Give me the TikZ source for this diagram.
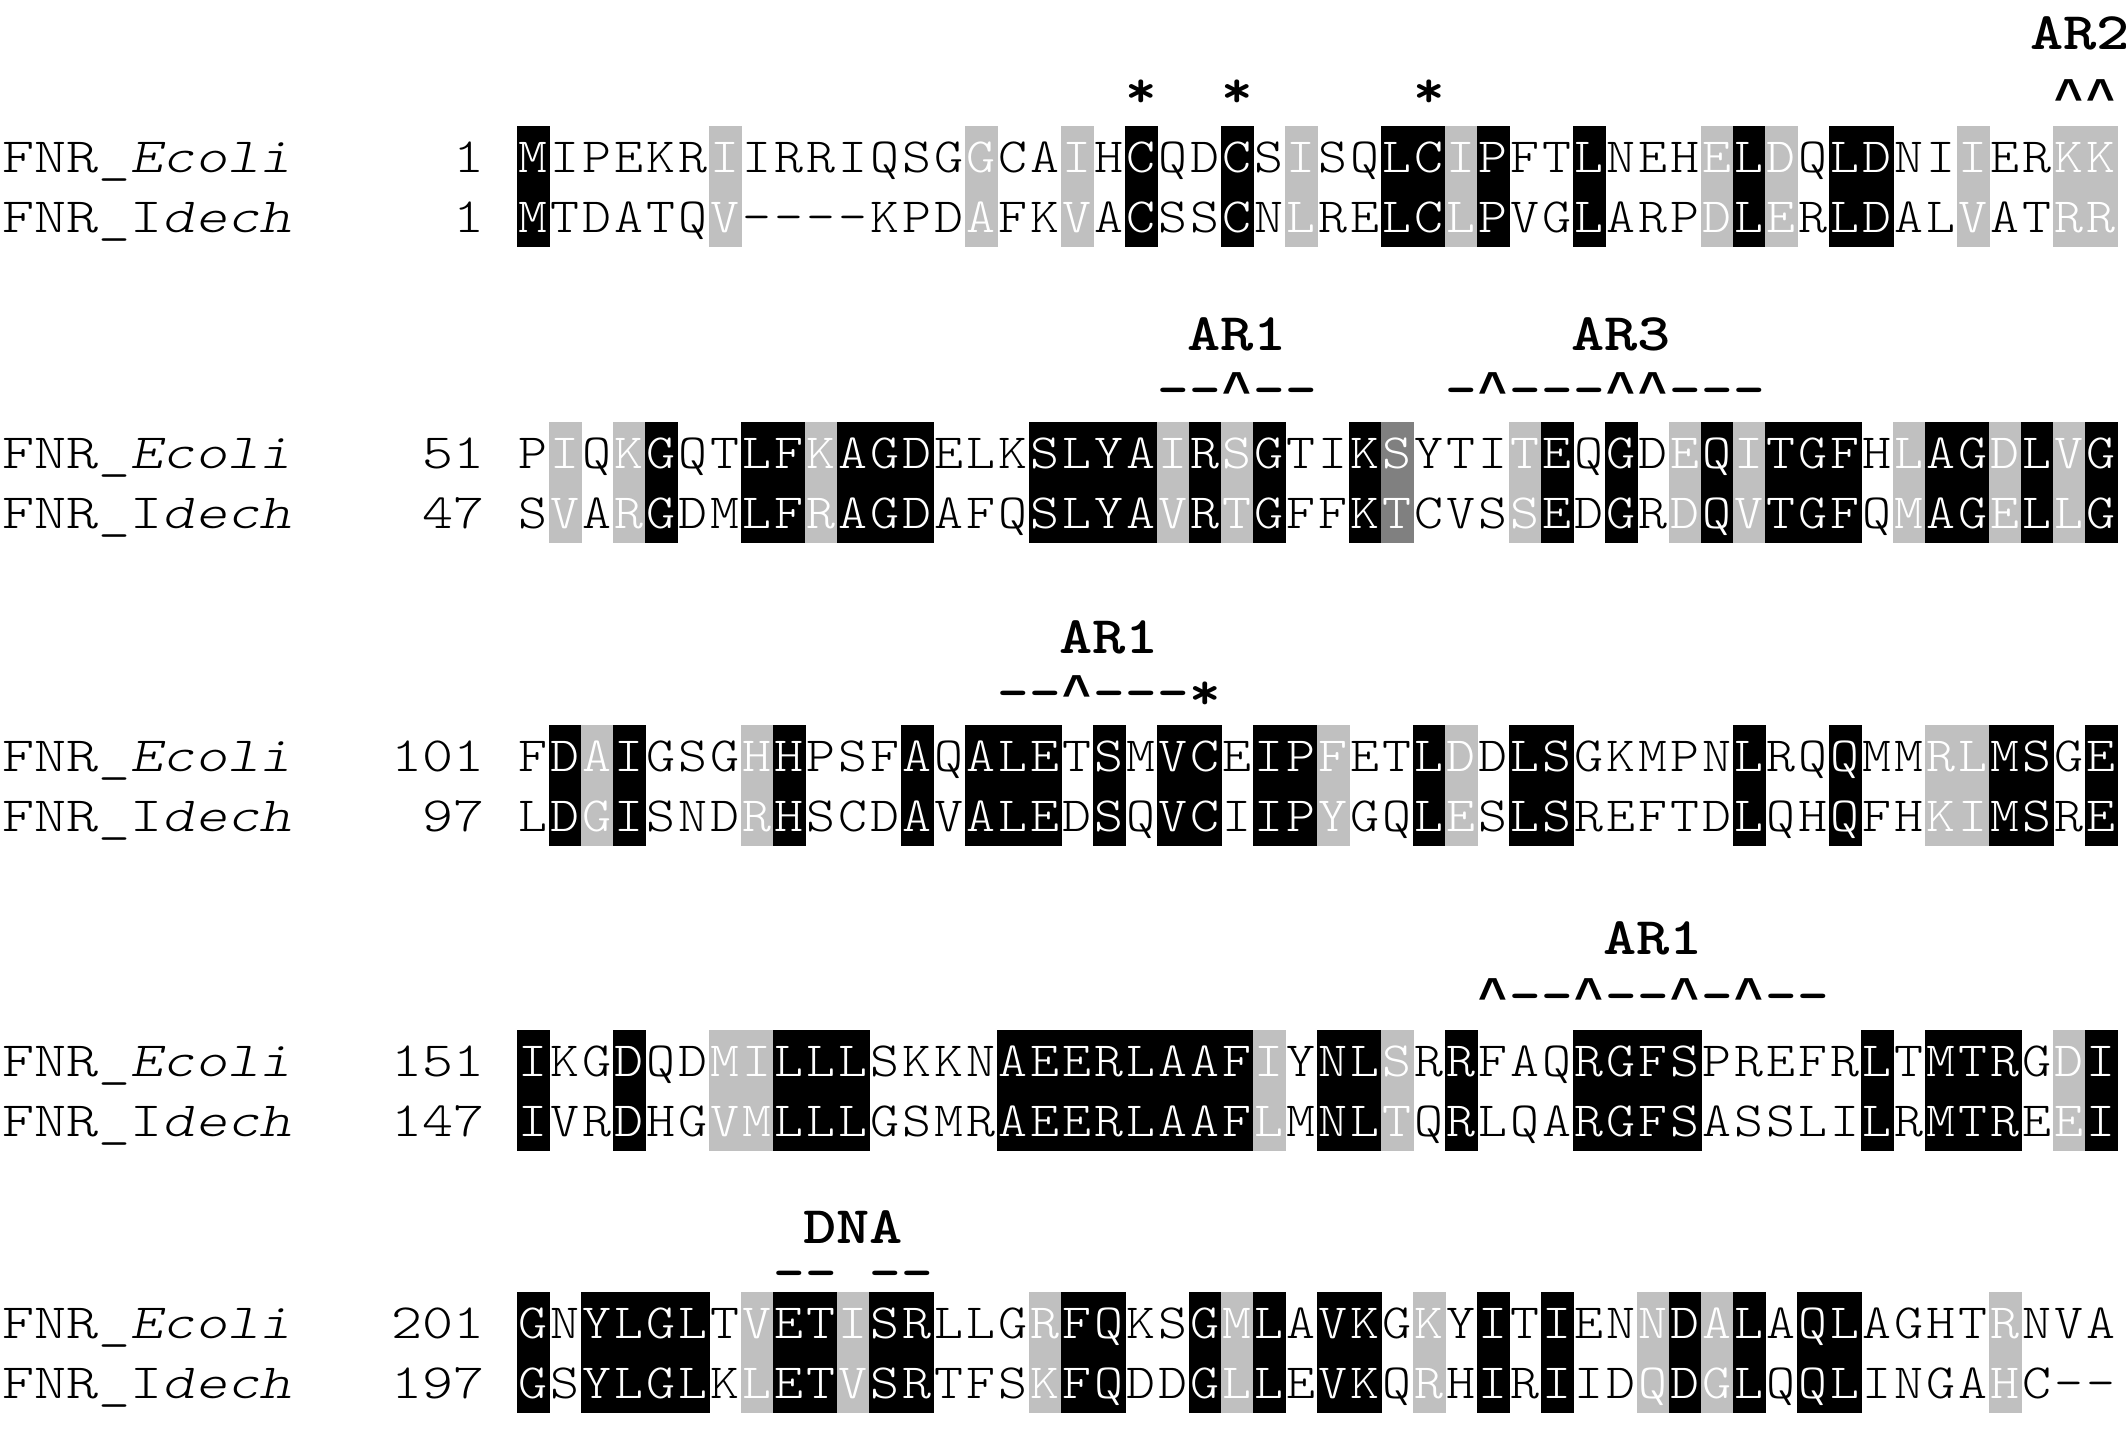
\documentclass[tikz,border=0pt]{standalone}
\usepackage{tikz}

\definecolor{simgray}{RGB}{192,192,192}
\definecolor{simdark}{RGB}{128,128,128}

\font\caretfont="Liberation Mono/B" at 14pt
\newcommand\wide[1]{\scalebox{1.2}[1]{#1}}
\newcommand\namew[1]{\scalebox{1.24}[1]{#1}}
\newcommand\resw[1]{\scalebox{1.12}[1]{#1}}
\newcommand\markw[1]{\scalebox{1.14}[1]{#1}}

\tikzset{
  res/.style={font=\fontsize{14}{14}\selectfont\ttfamily\fontseries{l}\selectfont, inner sep=0pt, anchor=base},
  seqname/.style={font=\fontsize{14}{14}\selectfont\ttfamily\fontseries{l}\selectfont, inner sep=0pt, anchor=base west},
  seqnum/.style={font=\fontsize{14}{14}\selectfont\ttfamily\fontseries{l}\selectfont, inner sep=0pt, anchor=base east},
  regmark/.style={font=\fontsize{15}{15}\selectfont\ttfamily\bfseries, inner sep=0pt, anchor=base},
  reglabel/.style={font=\fontsize{15}{15}\selectfont\ttfamily\bfseries, inner sep=0pt}
}

\newcount\colno

% one column: first row, second row, shading (k black, g gray, d dark, . none)
\def\alncol#1#2#3{%
  \def\rescol{white}%
  \if#3k\def\shcol{black}\fi
  \if#3g\def\shcol{simgray}\fi
  \if#3d\def\shcol{simdark}\fi
  \if#3.\def\rescol{black}\else
    \fill[\shcol] ({517+(\the\colno-1)*32},\rowy-31) rectangle ({517+\the\colno*32+0.6},\rowy+90);\fi
  \node[res, text=\rescol] (a\blkid-\the\colno) at ({517+(\the\colno-0.5)*32},\rowy+15) {\resw{#1}};
  \node[res, text=\rescol] (b\blkid-\the\colno) at ({517+(\the\colno-0.5)*32},\rowy+75) {\resw{#2}};
}
\def\alnloop#1#2\relax#3#4\relax#5#6\relax{%
  \global\advance\colno by 1
  \alncol{#1}{#3}{#5}%
  \ifx\relax#2\relax\else\alnloop#2\relax#4\relax#6\relax\fi}

% one block: id, centre of first row, numbers, rows, shading
\newcommand\alnblock[7]{%
  \def\blkid{#1}\def\rowy{#2}%
  \node[seqname] (ec#1) at (2,#2+15) {\namew{FNR\_\textit{Ecoli}}};
  \node[seqname] (id#1) at (2,#2+75) {\namew{FNR\_I\textit{dech}}};
  \node[seqnum] (ecn#1) at (485,#2+15) {\wide{#3}};
  \node[seqnum] (idn#1) at (485,#2+75) {\wide{#4}};
  \global\colno=0
  \alnloop#5\relax#6\relax#7\relax}

% marks: c caret, d dash, x star, . nothing
\def\markloop#1#2\relax{%
  \global\advance\colno by 1
  \if#1c\node[regmark] (m\blkid-\the\colno) at ({517+(\the\colno-0.5)*32},\marky) {\caretfont\char94};\fi
  \if#1d\node[regmark] (m\blkid-\the\colno) at ({517+(\the\colno-0.5)*32},\marky) {\markw{-}};\fi
  \if#1x\node[regmark] (m\blkid-\the\colno) at ({517+(\the\colno-0.5)*32},\marky) {\markw{*}};\fi
  \ifx\relax#2\relax\else\markloop#2\relax\fi}
\newcommand\markrow[4]{%
  \def\blkid{#1}\def\marky{#2}%
  \global\colno=#3 \global\advance\colno by -1
  \markloop#4\relax}

\begin{document}
\begin{tikzpicture}[x=0.01cm, y=-0.01cm]
  \useasboundingbox (0,0) rectangle (2128,1436);

  % block 1
  \alnblock{1}{157}{1}{1}
    {MIPEKRIIRRIQSGGCAIHCQDCSISQLCIPFTLNEHELDQLDNIIERKK}
    {MTDATQV----KPDAFKVACSSCNLRELCLPVGLARPDLERLDALVATRR}
    {k.....g.......g..g.k..k.g..kkgk..k...gkg.kk..g..gg}
  \markrow{1}{107}{20}{x..x.....x}
  \markrow{1}{113}{49}{cc}
  \node[reglabel] (ar2) at (2080,33) {\wide{AR2}};

  % block 2
  \alnblock{2}{453}{51}{47}
    {PIQKGQTLFKAGDELKSLYAIRSGTIKSYTITEQGDEQITGFHLAGDLVG}
    {SVARGDMLFRAGDAFQSLYAVRTGFFKTCVSSEDGRDQVTGFQMAGELLG}
    {.g.gk..kkgkkk...kkkkgkgk..kd...gk.k.gkgkkk.gkkgkgk}
  \markrow{2}{406}{21}{ddcdd}
  \markrow{2}{406}{30}{dcdddccddd}
  \node[reglabel] (ar1a) at (1237,334) {\wide{AR1}};
  \node[reglabel] (ar3) at (1621,334) {\wide{AR3}};

  % block 3
  \alnblock{3}{756}{101}{97}
    {FDAIGSGHHPSFAQALETSMVCEIPFETLDDLSGKMPNLRQQMMRLMSGE}
    {LDGISNDRHSCDAVALEDSQVCIIPYGQLESLSREFTDLQHQFHKIMSRE}
    {.kgk...gk...k.kkk.k.kk.kkg..kg.kk.....k..k..ggkk.k}
  \markrow{3}{709}{16}{ddcdddx}
  \node[reglabel] (ar1b) at (1109,637) {\wide{AR1}};

  % block 4
  \alnblock{4}{1061}{151}{147}
    {IKGDQDMILLLSKKNAEERLAAFIYNLSRRFAQRGFSPREFRLTMTRGDI}
    {IVRDHGVMLLLGSMRAEERLAAFLMNLTQRLQARGFSASSLILRMTREEI}
    {k..k..ggkkk....kkkkkkkkg.kkg.k...kkkk.....k.kkk.gk}
  \markrow{4}{1012}{31}{cddcddcdcdd}
  \node[reglabel] (ar1c) at (1653,938) {\wide{AR1}};

  % block 5
  \alnblock{5}{1323}{201}{197}
    {GNYLGLTVETISRLLGRFQKSGMLAVKGKYITIENNDALAQLAGHTRNVA}
    {GSYLGLKLETVSRTFSKFQDDGLLEVKQRHIRIIDQDGLQQLINGAHC--}
    {k.kkkk.gkkgkk...gkk..kgk.kk.g.k.k..gkgk.kk....g...}
  \markrow{5}{1289}{9}{dd.dd}
  \node[reglabel] (dna) at (853,1227) {\wide{DNA}};
\end{tikzpicture}
\end{document}
